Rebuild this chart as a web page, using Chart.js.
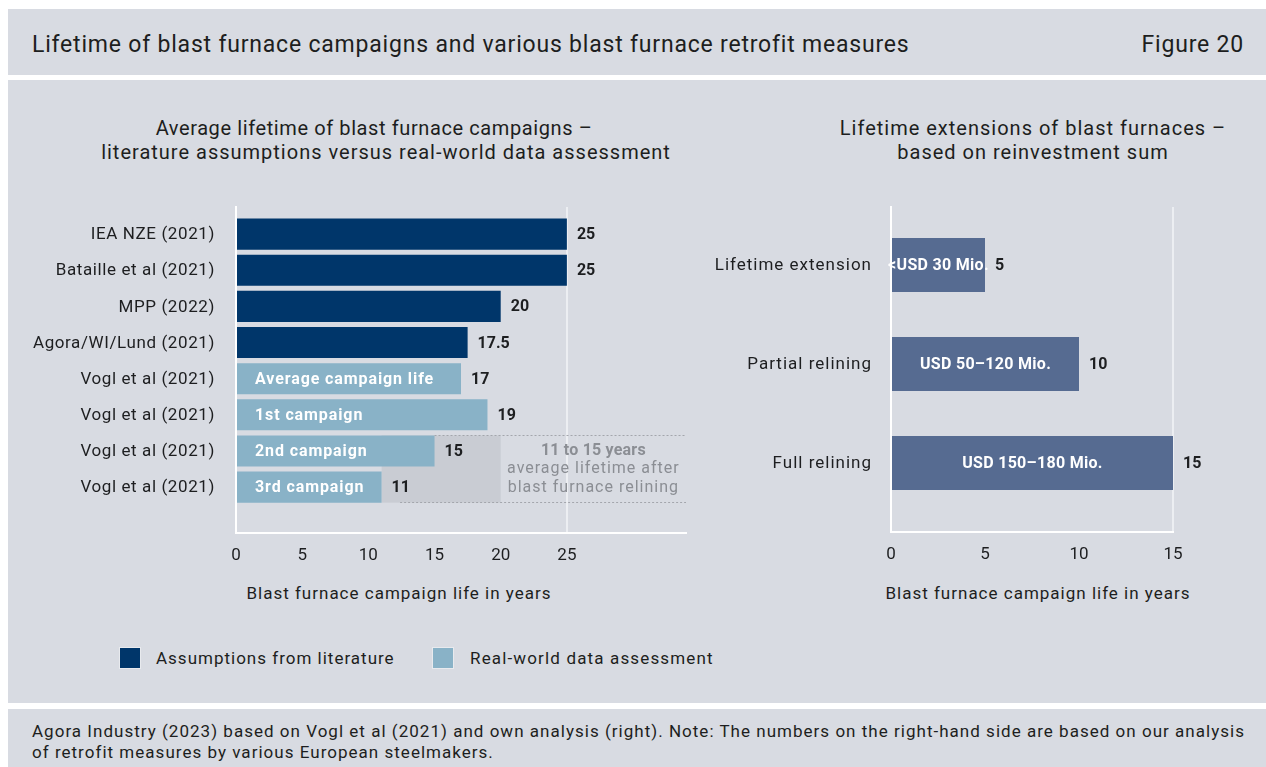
<!DOCTYPE html>
<html><head><meta charset="utf-8">
<script src="https://cdn.jsdelivr.net/npm/chart.js@4.4.0/dist/chart.umd.min.js"></script>
<style>
body{margin:0;width:1266px;height:767px;background:#fff;position:relative;overflow:hidden;font-family:Roboto,sans-serif;color:#1d1e20}
.panel{position:absolute;left:8px;right:0;background:#d8dbe2}
.t{position:absolute;white-space:nowrap;line-height:1}
.c{transform:translateX(-50%);text-align:center}
.sq{position:absolute;width:22px;height:22px;box-sizing:border-box;border:1px solid #e8eaee}
canvas{position:absolute}
</style></head><body>
<div class="panel" style="top:9px;height:66px"></div>
<div class="panel" style="top:80px;height:623px"></div>
<div class="panel" style="top:709px;height:58px"></div>

<div class="t" style="left:32px;top:33px;font-size:23px;letter-spacing:0.8px">Lifetime of blast furnace campaigns and various blast furnace retrofit measures</div>
<div class="t" style="right:22px;top:33px;font-size:23px;letter-spacing:0.8px">Figure 20</div>

<div class="t c" style="left:374px;top:118px;font-size:20px;letter-spacing:0.6px">Average lifetime of blast furnace campaigns –</div>
<div class="t c" style="left:386px;top:142px;font-size:20px;letter-spacing:1px">literature assumptions versus real-world data assessment</div>
<div class="t c" style="left:1033px;top:116px;font-size:20px;line-height:24px;letter-spacing:1px">Lifetime extensions of blast furnaces –<br>based on reinvestment sum</div>

<div class="t c" style="left:399px;top:585px;font-size:17px;letter-spacing:1px">Blast furnace campaign life in years</div>
<div class="t c" style="left:1038px;top:585px;font-size:17px;letter-spacing:1px">Blast furnace campaign life in years</div>

<div class="sq" style="left:119px;top:647px;background:#00366a"></div>
<div class="t" style="left:156px;top:650px;font-size:17px;letter-spacing:1px">Assumptions from literature</div>
<div class="sq" style="left:432px;top:647px;background:#89b2c7"></div>
<div class="t" style="left:470px;top:650px;font-size:17px;letter-spacing:1.15px">Real-world data assessment</div>

<div class="t" style="left:32px;top:721px;font-size:17px;line-height:21px;letter-spacing:1.02px">Agora Industry (2023) based on Vogl et al (2021) and own analysis (right). Note: The numbers on the right-hand side are based on our analysis<br>of retrofit measures by various European steelmakers.</div>

<canvas id="c1" width="720" height="440" style="left:0;top:190px"></canvas>
<canvas id="c2" width="566" height="440" style="left:700px;top:190px"></canvas>

<script>
// ---- Left chart data ----
const leftLabels = ['IEA NZE (2021)','Bataille et al (2021)','MPP (2022)','Agora/WI/Lund (2021)','Vogl et al (2021)','Vogl et al (2021)','Vogl et al (2021)','Vogl et al (2021)'];
const leftValues = [25, 25, 20, 17.5, 17, 19, 15, 11];
const leftValueText = ['25','25','20','17.5','17','19','15','11'];
const leftInner = ['','','','','Average campaign life','1st campaign','2nd campaign','3rd campaign'];
const leftGroup = ['lit','lit','lit','lit','real','real','real','real'];
const leftTicks = [0, 5, 10, 15, 20, 25];
const relineBand = [11, 20];          // shaded range behind 2nd/3rd campaign
const relineRows = [6, 7];            // rows covered by the shaded range
const relineText = ['11 to 15 years', 'average lifetime after', 'blast furnace relining'];

// ---- Right chart data ----
const rightLabels = ['Lifetime extension','Partial relining','Full relining'];
const rightValues = [5, 10, 15];
const rightInner = ['<USD 30 Mio.','USD 50–120 Mio.','USD 150–180 Mio.'];
const rightTicks = [0, 5, 10, 15];

const COL = {lit:'#00366a', real:'#89b2c7', right:'#566b91', text:'#1d1e20', band:'#c9ccd3', grid:'#eceef2', axis:'#ffffff', note:'#8b8e94'};
const FONT = 'Roboto';

function makeScales(labels, ticks, xmax, ymin, ymax, yWidth, xHeight, gridAt){
  return {
    x:{type:'linear', min:0, max:xmax,
       afterBuildTicks:s=>{ s.ticks = ticks.map(v=>({value:v})); },
       afterFit:s=>{ s.height = xHeight; },
       grid:{drawTicks:false, lineWidth:2, color:c=> (c.tick && c.tick.value===gridAt) ? COL.grid : 'rgba(0,0,0,0)'},
       border:{display:true, color:COL.axis, width:2},
       ticks:{padding:13, color:COL.text, font:{family:FONT, size:17}}},
    y:{type:'linear', reverse:true, min:ymin, max:ymax, offset:false,
       afterBuildTicks:s=>{ s.ticks = labels.map((l,i)=>({value:i})); },
       afterFit:s=>{ s.width = yWidth; },
       grid:{display:false, drawTicks:false},
       border:{display:true, color:COL.axis, width:2},
       ticks:{display:false}}
  };
}

// category labels left of the axis, placed through the y scale
function catLabels(chart, labels, gap, spacing){
  const {ctx, scales:{x,y}} = chart;
  ctx.save();
  ctx.font = '17px '+FONT; ctx.fillStyle = COL.text;
  ctx.textAlign = 'right'; ctx.textBaseline = 'middle';
  ctx.letterSpacing = spacing;
  labels.forEach((l,i)=> ctx.fillText(l, x.left - gap, y.getPixelForValue(i) + 1));
  ctx.restore();
}

function barLabels(chart, inner, valueText, innerMode){
  const {ctx} = chart;
  const meta = chart.getDatasetMeta(0);
  ctx.save();
  ctx.textBaseline = 'middle';
  meta.data.forEach((el,i)=>{
    ctx.letterSpacing = '0px';
    ctx.font = 'bold 16px '+FONT;
    ctx.fillStyle = COL.text; ctx.textAlign = 'left';
    ctx.fillText(valueText[i], el.x + 10, el.y + 1);
    if (inner[i]) {
      ctx.fillStyle = '#ffffff';
      if (innerMode === 'left') { ctx.letterSpacing = '0.9px'; ctx.textAlign='left'; ctx.fillText(inner[i], el.base + 18, el.y + 1); }
      else { ctx.letterSpacing = '0.3px'; ctx.textAlign='center'; ctx.fillText(inner[i], (el.base + el.x)/2, el.y + 1); }
    }
  });
  ctx.restore();
}

const leftPlugin = {
  id:'leftDeco',
  beforeDatasetsDraw(chart){
    const {ctx, scales:{x,y}} = chart;
    const half = 0.43;
    const x0 = x.getPixelForValue(relineBand[0]), x1 = x.getPixelForValue(relineBand[1]);
    const y0 = y.getPixelForValue(relineRows[0]-half), y1 = y.getPixelForValue(relineRows[1]+half);
    ctx.save();
    ctx.fillStyle = COL.band; ctx.fillRect(x0, y0, x1-x0, y1-y0);
    ctx.restore();
  },
  afterDatasetsDraw(chart){
    const {ctx, scales:{x,y}, chartArea} = chart;
    const half = 0.43;
    const y0 = Math.round(y.getPixelForValue(relineRows[0]-half))+0.5, y1 = Math.round(y.getPixelForValue(relineRows[1]+half))-0.5;
    ctx.save();
    ctx.strokeStyle = '#a3a6ac'; ctx.lineWidth = 1; ctx.setLineDash([2,2]);
    ctx.beginPath();
    ctx.moveTo(x.getPixelForValue(15), y0); ctx.lineTo(chartArea.right, y0);
    ctx.moveTo(x.getPixelForValue(12.4), y1); ctx.lineTo(chartArea.right, y1);
    ctx.stroke();
    ctx.setLineDash([]);
    const cx = x.getPixelForValue(27), cy = y.getPixelForValue(relineRows[0]);
    ctx.fillStyle = COL.note; ctx.textAlign='center'; ctx.textBaseline='middle';
    ctx.font = 'bold 16px '+FONT; ctx.letterSpacing = '0.2px'; ctx.fillText(relineText[0], cx, cy);
    ctx.font = '16px '+FONT; ctx.letterSpacing = '1px';
    ctx.fillText(relineText[1], cx, cy+18);
    ctx.fillText(relineText[2], cx, cy+37);
    ctx.restore();
    barLabels(chart, leftInner, leftValueText, 'left');
    catLabels(chart, leftLabels, 21, '0.6px');
  }
};

const rightPlugin = {
  id:'rightDeco',
  afterDatasetsDraw(chart){
    barLabels(chart, rightInner, rightValues.map(String), 'center');
    catLabels(chart, rightLabels, 19, '1px');
  }
};

new Chart(document.getElementById('c1'), {
  type:'bar',
  data:{datasets:[{data:leftValues.map((v,i)=>({x:v,y:i})),
    backgroundColor:leftGroup.map(g=>COL[g]), barPercentage:0.86, categoryPercentage:1}]},
  options:{indexAxis:'y', responsive:false, animation:false, events:[],
    layout:{padding:{top:17, right:34, left:0, bottom:0}},
    plugins:{legend:{display:false}, tooltip:{enabled:false}},
    scales:makeScales(leftLabels, leftTicks, 34, -0.75, 8.27, 236, 97, 25)},
  plugins:[leftPlugin]
});

new Chart(document.getElementById('c2'), {
  type:'bar',
  data:{datasets:[{data:rightValues.map((v,i)=>({x:v,y:i})),
    backgroundColor:COL.right, barPercentage:0.545, categoryPercentage:1}]},
  options:{indexAxis:'y', responsive:false, animation:false, events:[],
    layout:{padding:{top:17, right:93, left:0, bottom:0}},
    plugins:{legend:{display:false}, tooltip:{enabled:false}},
    scales:makeScales(rightLabels, rightTicks, 15, -0.586, 2.697, 191, 98, 15)},
  plugins:[rightPlugin]
});
</script>
</body></html>
